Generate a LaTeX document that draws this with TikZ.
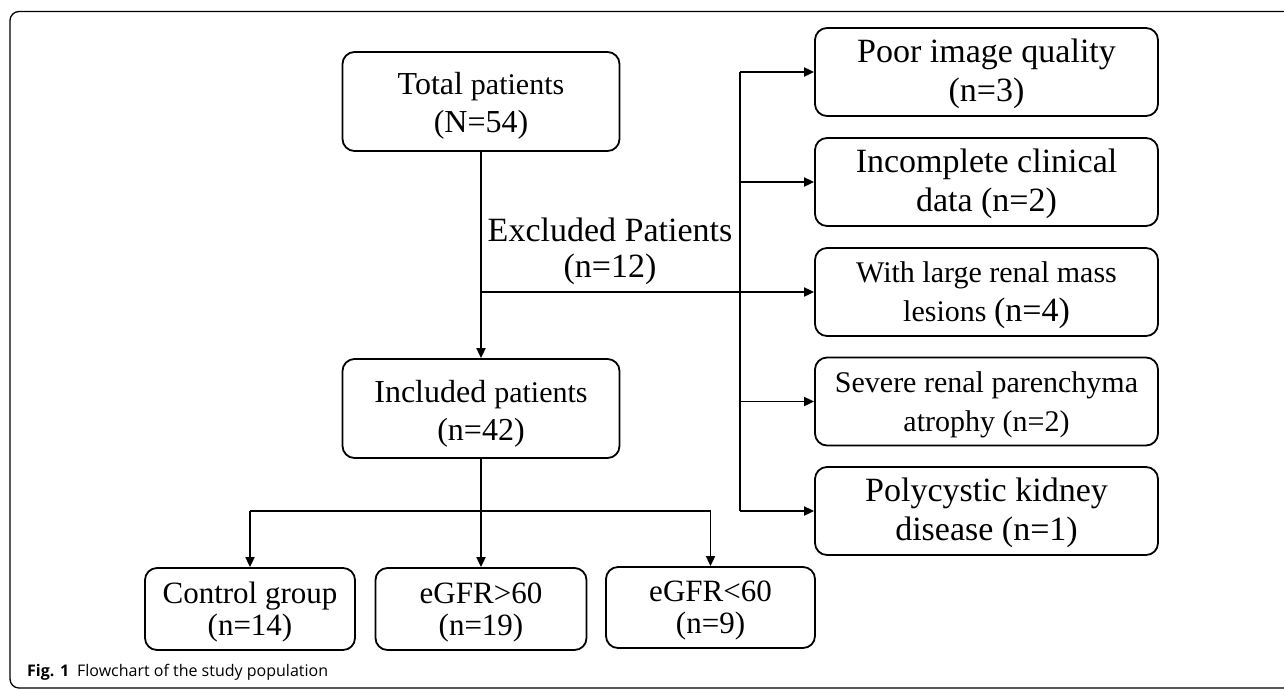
\documentclass[tikz,border=0pt]{standalone}
\usepackage{fontspec}
\setmainfont{Liberation Serif}
\newfontfamily\capfont{Open Sans}
\usetikzlibrary{arrows.meta}
\newcommand\st[1]{\rule{0pt}{#1pt}}
\begin{document}
\begin{tikzpicture}[x=1pt,y=-1pt,
  box/.style={draw, line width=1.8pt, rounded corners=12pt, align=center, inner sep=0pt},
  conn/.style={line width=1.8pt},
  arr/.style={conn, -{Triangle[length=10pt,width=9pt]}},
  big/.style={font=\fontsize{34}{38.5}\selectfont},
  bigt/.style={font=\fontsize{32}{38}\selectfont},
  mid/.style={font=\fontsize{31}{32}\selectfont},
  sml/.style={font=\fontsize{30}{38.5}\selectfont}]
\useasboundingbox (0,0) rectangle (1284,689);
\begin{scope}
\clip (0,0) rectangle (1284,689);
\draw[line width=1.3pt, rounded corners=9pt] (10,11.5) rectangle (1300,688);
\end{scope}

% main column
\node[box, bigt, minimum width=277pt, minimum height=99pt] (total) at (481,101.5)
  {\st{30.7}Total {\fontsize{30}{38}\selectfont patients}\\(N=54)};
\node[box, bigt, minimum width=277pt, minimum height=99pt] (incl) at (481,408.5)
  {\st{32.7}Included {\fontsize{30}{38}\selectfont patients}\\(n=42)};

\node[font=\fontsize{34}{36}\selectfont, align=center, inner sep=0pt] (exlab) at (610,251.5) {Excluded Patients\\(n=12)};

% right column
\node[box, big, minimum width=343pt, minimum height=88pt] (r1) at (986.5,72) {\st{27.5}Poor image quality\\(n=3)};
\node[box, big, minimum width=343pt, minimum height=88pt] (r2) at (986.5,182) {\st{27.5}Incomplete clinical\\data (n=2)};
\node[box, sml, minimum width=343pt, minimum height=88pt] (r3) at (986.5,292) {\st{27.5}With large renal mass\\lesions {\fontsize{34}{38.5}\selectfont(n=4)}};
\node[box, sml, minimum width=343pt, minimum height=88pt] (r4) at (986.5,401.5) {\st{27.5}Severe renal parenchyma\\atrophy (n=2)};
\node[box, big, minimum width=343pt, minimum height=88pt] (r5) at (986.5,511) {\st{27.5}Polycystic kidney\\disease (n=1)};

% bottom row
\node[box, mid, minimum width=210pt, minimum height=82pt] (g1) at (250,609) {\st{27.5}Control group\\(n=14)};
\node[box, mid, minimum width=211pt, minimum height=82pt] (g2) at (481,609) {\st{27.5}eGFR\textgreater60\\(n=19)};
\node[box, mid, minimum width=209pt, minimum height=81pt] (g3) at (710.5,607.5) {\st{27.5}eGFR\textless60\\(n=9)};

% coordinates
\coordinate (s1) at (740,72);
\coordinate (s2) at (740,182);
\coordinate (s4) at (740,401.5);
\coordinate (s5) at (740,511);
\coordinate (j) at (481,292);
\coordinate (bl) at (250,511);
\coordinate (br) at (710.5,511);

% connectors
\draw[arr] (total) -- (incl);
\draw[conn] (s1) -- (s5);
\draw[arr] (s1) -- (r1);
\draw[arr] (s2) -- (r2);
\draw[arr] (j) -- (r3);
\draw[arr] (s4) -- (r4);
\draw[arr] (s5) -- (r5);
\draw[arr] (incl) -- (g2);
\draw[conn] (bl) -- (br);
\draw[arr] (bl) -- (g1);
\draw[arr] (br) -- (g3);

% caption
\node[anchor=base west, inner sep=0pt, font=\capfont\fontsize{16}{19}\selectfont] (cap) at (27,676)
  {\textbf{Fig. 1}\hspace{8pt}Flowchart of the study population};
\end{tikzpicture}
\end{document}
